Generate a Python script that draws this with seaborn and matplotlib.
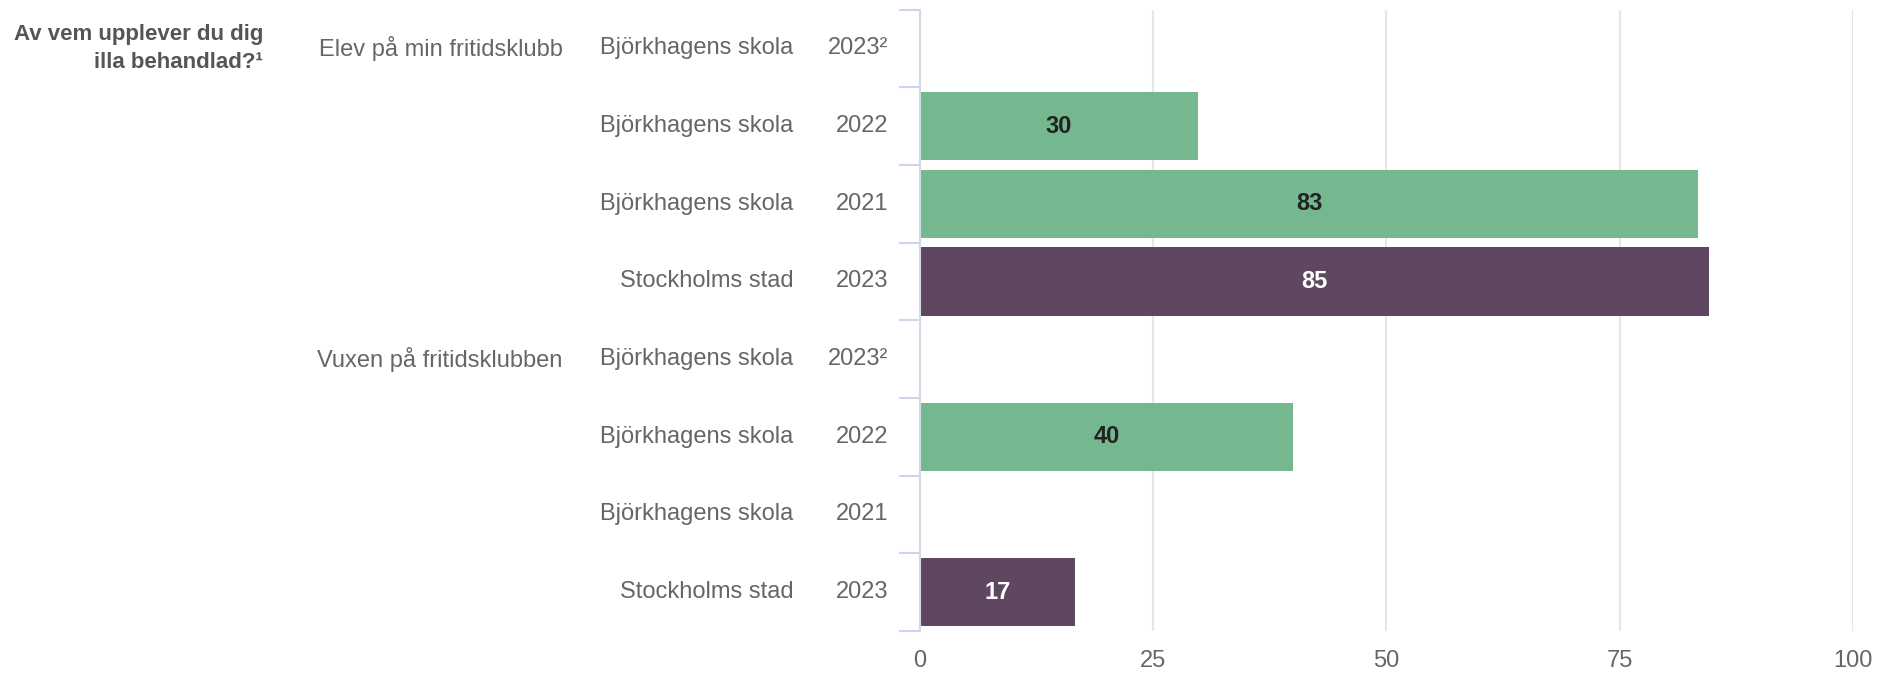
import numpy as np
import pandas as pd
import matplotlib
matplotlib.use("Agg")
import matplotlib.pyplot as plt
import seaborn as sns

title = "Av vem upplever du dig\nilla behandlad?¹"
groups = ["Elev på min fritidsklubb"] * 4 + ["Vuxen på fritidsklubben"] * 4
units = ["Björkhagens skola", "Björkhagens skola", "Björkhagens skola", "Stockholms stad"] * 2
years = ["2023²", "2022", "2021", "2023"] * 2
values = [np.nan, 29.8, 83.4, 84.6, np.nan, 40.0, np.nan, 16.6]
xticks = [0, 25, 50, 75, 100]

colors = {"Björkhagens skola": "#75b78f", "Stockholms stad": "#5f4762"}
label_colors = {"Björkhagens skola": "#222222", "Stockholms stad": "#ffffff"}
grey = "#666666"

sns.set_theme(style="white")
plt.rcParams["font.family"] = ["Liberation Sans", "DejaVu Sans"]

df = pd.DataFrame({"group": groups, "unit": units, "year": years, "value": values})
df["row"] = [f"{g}|{u}|{y}|{i}" for i, (g, u, y) in enumerate(zip(groups, units, years))]

fig = plt.figure(figsize=(18.77, 6.76), dpi=100)
ax = fig.add_axes([0.4901, 0.0666, 0.4971, 0.9192])

sns.barplot(data=df, x="value", y="row", hue="unit", order=list(df["row"]),
            palette=colors, dodge=False, width=0.88, legend=False, ax=ax,
            saturation=1, linewidth=0)

ax.set_xlim(0, 100)
ax.set_ylim(len(df) - 0.5, -0.5)
ax.set_xticks(xticks)
ax.set_xticklabels([str(t) for t in xticks])
ax.xaxis.grid(True, color="#e6e6e6", linewidth=1.5)
ax.set_axisbelow(True)
ax.tick_params(axis="x", length=0, pad=14, labelsize=17, labelcolor=grey)

ax.set_yticks(range(len(df)))
ax.set_yticklabels([])
ax.set_yticks(np.arange(-0.5, len(df), 1), minor=True)
ax.tick_params(axis="y", which="major", left=False, length=0)
ax.tick_params(axis="y", which="minor", left=True, length=15, width=1.5, color="#ccd6eb")
ax.set_xlabel("")
ax.set_ylabel("")

for side in ["top", "right", "bottom"]:
    ax.spines[side].set_visible(False)
ax.spines["left"].set_color("#d3d9e6")
ax.spines["left"].set_linewidth(1.5)

# value labels inside bars
for i, r in df.iterrows():
    if pd.notna(r["value"]):
        ax.text(r["value"] / 2, i, f"{r['value']:.0f}", ha="center", va="center",
                fontsize=17, fontweight="bold", color=label_colors[r["unit"]])

# category label columns left of the axis
trans = ax.get_yaxis_transform()
prev_group = None
for i, r in df.iterrows():
    ax.text(-0.0343, i, r["year"], transform=trans, ha="right", va="center",
            fontsize=17, color=grey)
    ax.text(-0.1355, i, r["unit"], transform=trans, ha="right", va="center",
            fontsize=17, color=grey)
    if r["group"] != prev_group:
        ax.text(-0.383, i, r["group"], transform=trans, ha="right", va="center",
                fontsize=17, color=grey)
        prev_group = r["group"]

ax.text(-0.704, 0, title, transform=trans, ha="right", va="center",
        fontsize=16, fontweight="bold", color="#555555", linespacing=1.4)

fig.savefig("out.png", dpi=100)
